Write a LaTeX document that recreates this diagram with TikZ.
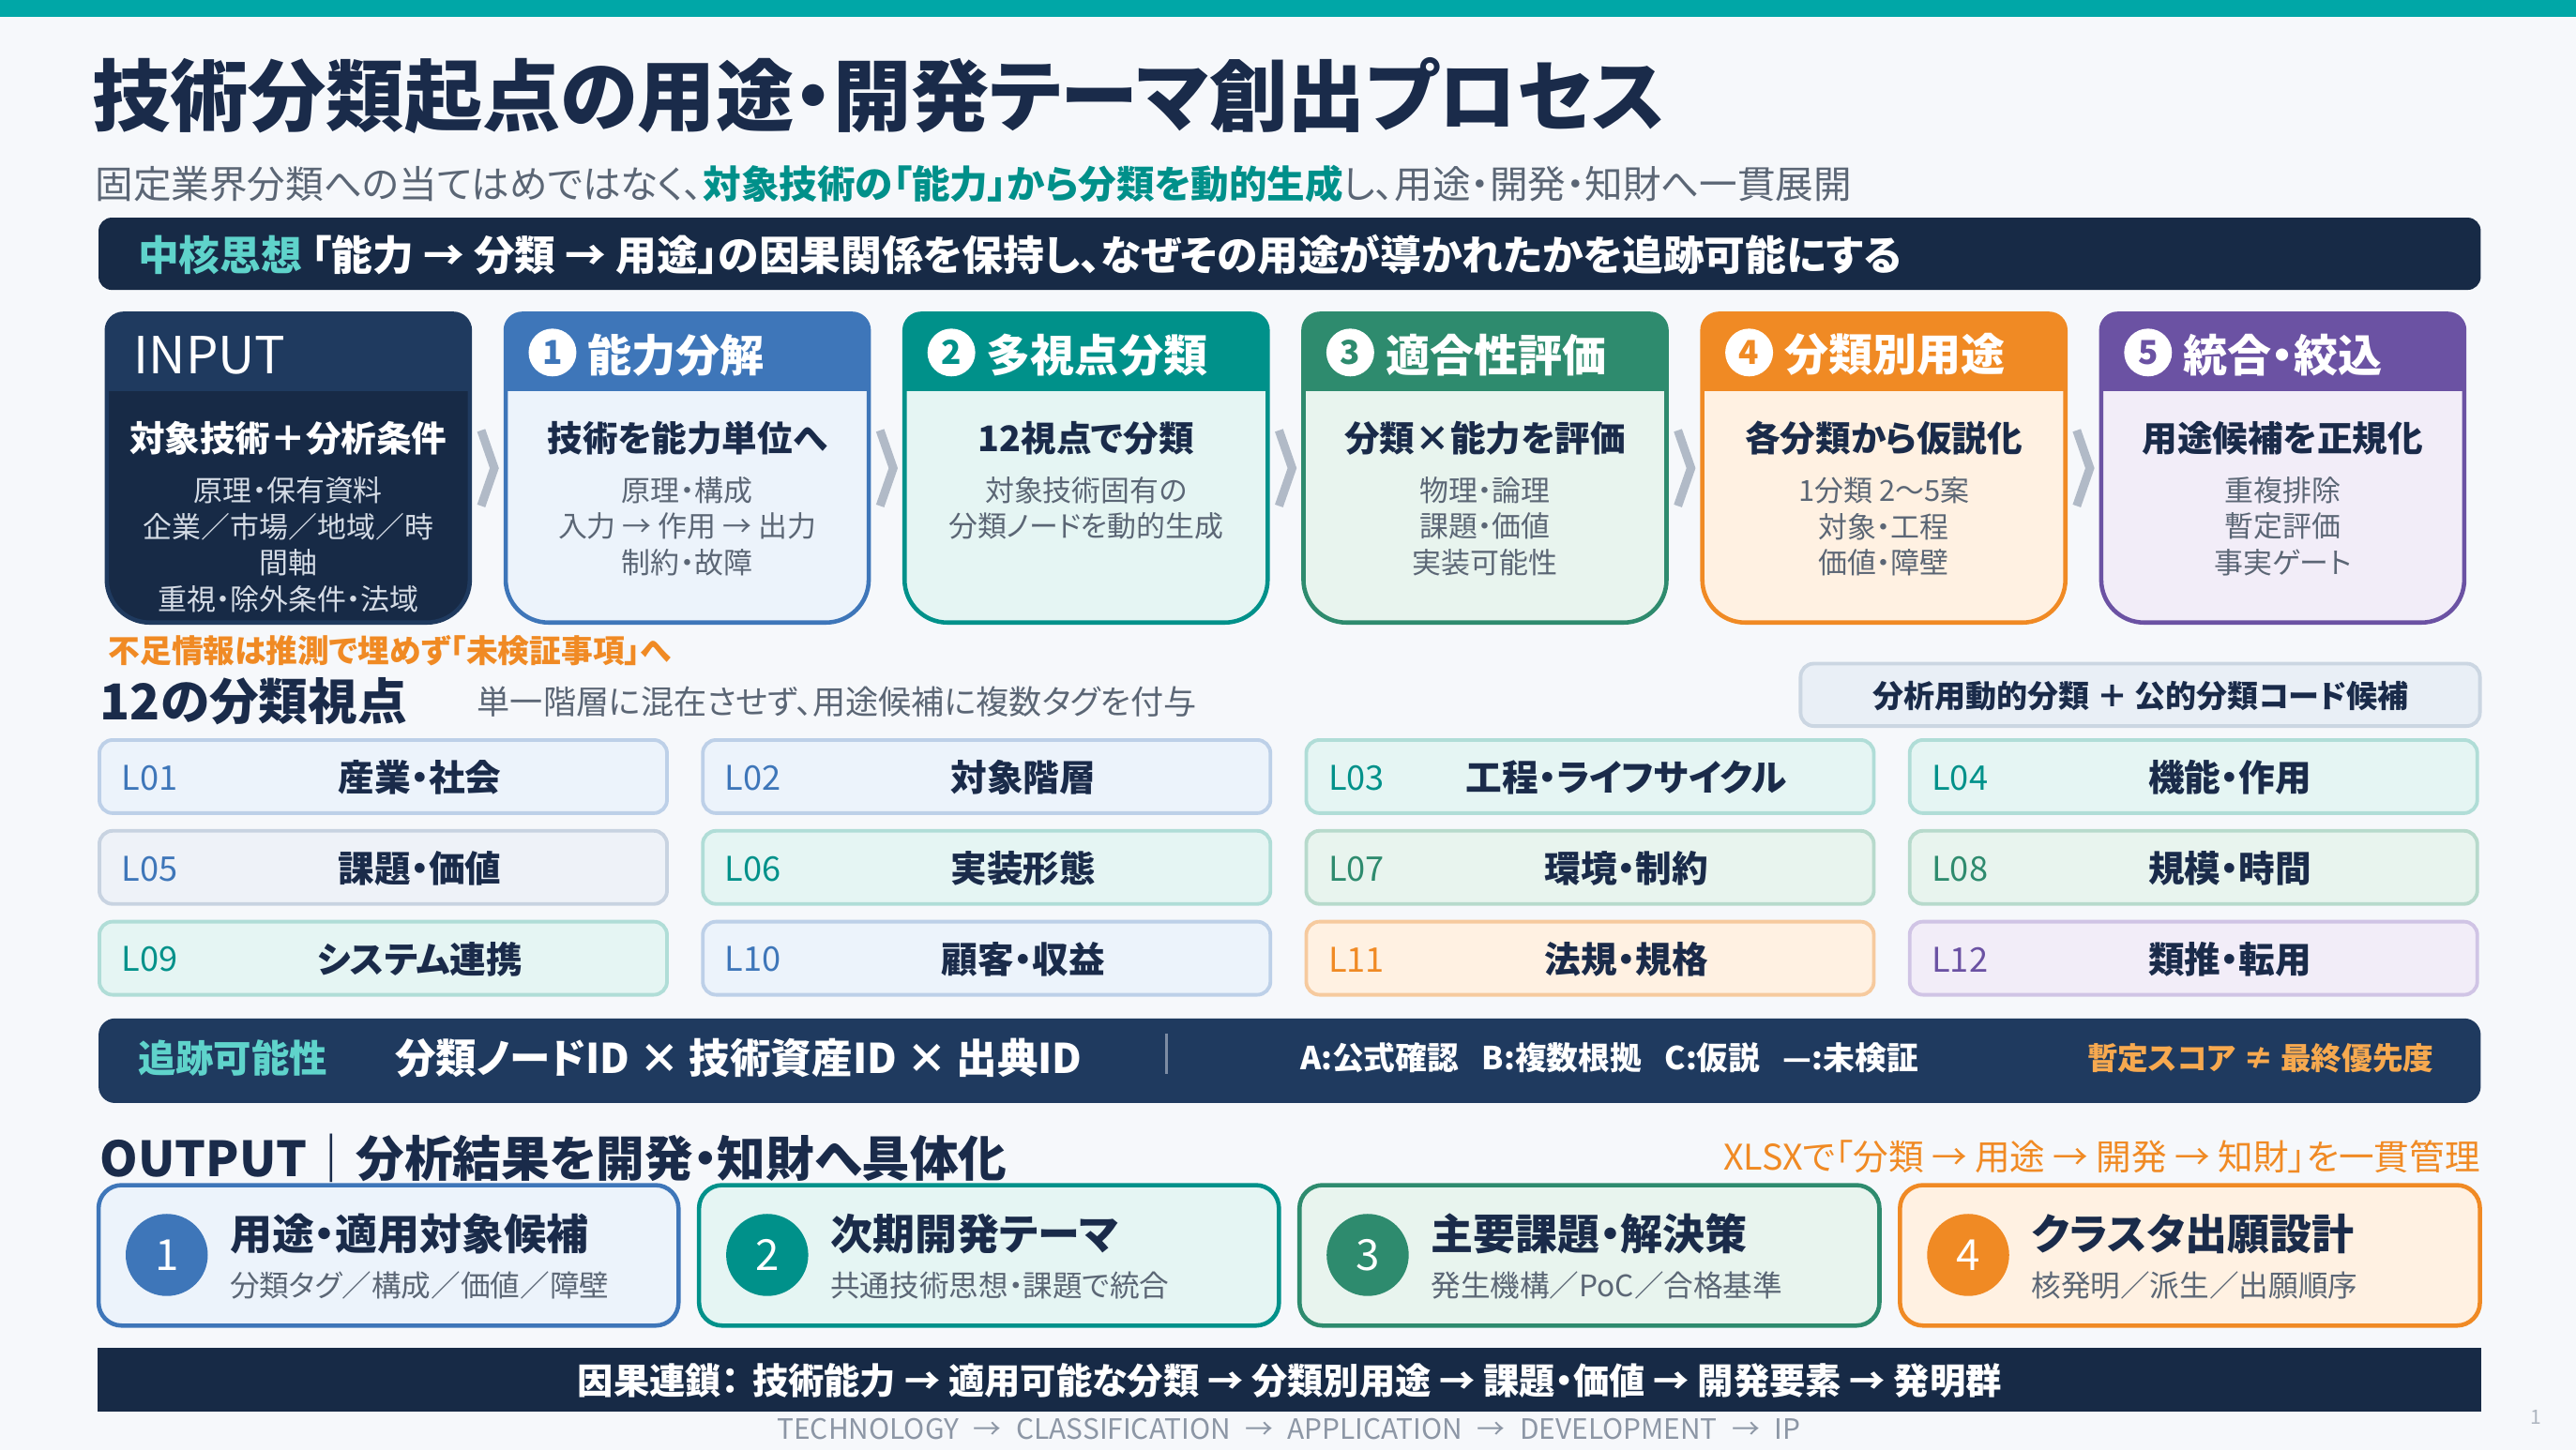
\documentclass[tikz,border=0pt]{standalone}
\usepackage{fontspec}
\setmainfont[RawFeature=+palt]{Noto Sans CJK JP}
\usetikzlibrary{calc}

\definecolor{bgc}{HTML}{F6F8FB}
\definecolor{topbar}{HTML}{00A7A7}
\definecolor{navy}{HTML}{172A46}
\definecolor{navyB}{HTML}{1F3A5F}
\definecolor{ink}{HTML}{1A2B4A}
\definecolor{grayt}{HTML}{5B6675}
\definecolor{tealt}{HTML}{00908A}
\definecolor{aqua}{HTML}{5FD3CB}
\definecolor{blueC}{HTML}{3E76B9}
\definecolor{blueL}{HTML}{ECF3FB}
\definecolor{blueB}{HTML}{BDD0E8}
\definecolor{slateL}{HTML}{EEF2F8}
\definecolor{slateB}{HTML}{C8D3E1}
\definecolor{tealC}{HTML}{00918A}
\definecolor{tealL}{HTML}{E5F5F3}
\definecolor{tealB}{HTML}{B0DDD7}
\definecolor{greenC}{HTML}{2E8B6E}
\definecolor{greenL}{HTML}{E8F4EE}
\definecolor{greenB}{HTML}{B7DACC}
\definecolor{orangeC}{HTML}{F08A24}
\definecolor{orangeL}{HTML}{FFF1E2}
\definecolor{orangeB}{HTML}{F6CA9E}
\definecolor{purpleC}{HTML}{6B52A3}
\definecolor{purpleL}{HTML}{F2EDF8}
\definecolor{purpleB}{HTML}{D0C4E5}
\definecolor{chevc}{HTML}{B1BAC7}
\definecolor{scorec}{HTML}{F7A94F}
\definecolor{lgray}{HTML}{8C96A5}
\definecolor{inputsub}{HTML}{D5DCE6}
\definecolor{dynL}{HTML}{E9EFF6}
\definecolor{dynB}{HTML}{CBD6E2}
\definecolor{sepc}{HTML}{7D8CA3}

\newcommand{\fsz}[1]{\fontsize{#1}{#1}\selectfont}
% outline of one process stage (left edge given)
\newcommand{\stagepath}[1]{(#1+110,191) [rounded corners=5pt] -- (#1+221,191) -- (#1+221,300) [rounded corners=13pt] -- (#1+221,379) -- (#1,379) -- (#1,300) [rounded corners=5pt] -- (#1,191) -- cycle}

\tikzset{
  txt/.style={inner sep=0pt, outer sep=0pt},
  lbl/.style={txt, anchor=west},
  stagehd/.style={lbl, text=white, font=\bfseries\fsz{13.4pt}},
  stagenum/.style={circle, fill=white, inner sep=0pt, minimum size=14.5pt, font=\bfseries\fsz{10pt}},
  stagettl/.style={txt, text=ink, font=\bfseries\fsz{10.7pt}},
  stagesub/.style={txt, text=grayt, font=\fsz{8.8pt}},
  chev/.style={draw=chevc, line width=2.6pt, line join=miter},
  cellcode/.style={lbl, font=\fsz{10.3pt}},
  cellname/.style={txt, text=ink, font=\bfseries\fsz{11pt}},
  cardnum/.style={circle, inner sep=0pt, minimum size=24.9pt, text=white, font=\fsz{13pt}},
  cardttl/.style={lbl, text=ink, font=\bfseries\fsz{12.8pt}},
  cardsub/.style={lbl, text=grayt, font=\fsz{9pt}},
}

\begin{document}
\begin{tikzpicture}[x=0.017513cm, y=-0.017513cm]
\useasboundingbox (0,0) rectangle (1568,883);
\fill[bgc] (0,0) rectangle (1568,883);
\fill[topbar] (0,0) rectangle (1568,10);

% title block
\node[lbl, text=ink, font=\bfseries\fsz{23.7pt}] (title) at (56,58.5) {技術分類起点の用途・開発テーマ創出プロセス};
\node[lbl, text=grayt, font=\fsz{11.55pt}] (subtitle) at (58,112) {固定業界分類への当てはめではなく、{\bfseries\color{tealt}対象技術の「能力」から分類を動的生成}し、用途・開発・知財へ一貫展開};

\fill[navy, rounded corners=4pt] (60,132.5) rectangle (1510,176.5);
\node[lbl, text=white, font=\bfseries\fsz{12.45pt}] (core) at (84,155) {{\color{aqua}中核思想} 「能力 → 分類 → 用途」の因果関係を保持し、なぜその用途が導かれたかを追跡可能にする};

% INPUT stage
\begin{scope}
  \clip \stagepath{65};
  \fill[navy] (65,191) rectangle ++(221,188);
  \fill[navyB] (65,191) rectangle ++(221,47);
\end{scope}
\draw[navyB, line width=1.3pt] \stagepath{65};
\node[stagehd, font=\fsz{15.5pt}] (inputhd) at (81.5,216.5) {INPUT};
\node[stagettl, text=white] (inputttl) at (175.5,267) {対象技術＋分析条件};
\foreach \ln [count=\k] in {原理・保有資料, 企業／市場／地域／時, 間軸, 重視・除外条件・法域}
  \node[stagesub, text=inputsub] (insub\k) at (175.5,276.5+22*\k) {\ln};

% stages 1..5
\foreach \i/\hc/\bc/\ttl/\btl/\sub in {
  1/blueC/blueL/能力分解/技術を能力単位へ/{原理・構成,入力 → 作用 → 出力,制約・故障},
  2/tealC/tealL/多視点分類/12視点で分類/{対象技術固有の,分類ノードを動的生成},
  3/greenC/greenL/適合性評価/分類×能力を評価/{物理・論理,課題・価値,実装可能性},
  4/orangeC/orangeL/分類別用途/各分類から仮説化/{1分類 2～5案,対象・工程,価値・障壁},
  5/purpleC/purpleL/統合・絞込/用途候補を正規化/{重複排除,暫定評価,事実ゲート}}
{
  \pgfmathsetmacro{\x}{65+242.8*\i}
  \begin{scope}
    \clip \stagepath{\x};
    \fill[\bc] (\x,191) rectangle ++(221,188);
    \fill[\hc] (\x,191) rectangle ++(221,47);
  \end{scope}
  \draw[\hc, line width=1.3pt] \stagepath{\x};
  \node[stagenum, text=\hc] (num\i) at (\x+28.5,214.6) {\i};
  \node[stagehd] (hd\i) at (\x+50,216) {\ttl};
  \node[stagettl] (ttl\i) at (\x+110.5,267) {\btl};
  \foreach \ln [count=\k] in \sub
    \node[stagesub] (sub\i-\k) at (\x+110.5,276.5+22*\k) {\ln};
}

\foreach \i in {0,...,4}
  \draw[chev] ({296.9+242.8*\i-4},262) -- ({296.9+242.8*\i+4},285) -- ({296.9+242.8*\i-4},308);

% 12 viewpoints
\node[lbl, text=orangeC, font=\bfseries\fsz{9.6pt}] (gapnote) at (66,396) {不足情報は推測で埋めず「未検証事項」へ};
\node[lbl, text=ink, font=\bfseries\fsz{15pt}] (viewttl) at (61,427) {12の分類視点};
\node[lbl, text=grayt, font=\fsz{10pt}] (viewnote) at (290.5,427) {単一階層に混在させず、用途候補に複数タグを付与};
\draw[fill=dynL, draw=dynB, line width=1.1pt, rounded corners=4pt] (1096,404) rectangle (1509.5,442);
\node[txt, text=ink, font=\bfseries\fsz{9.4pt}] (dyn) at (1303,424) {分析用動的分類 ＋ 公的分類コード候補};

\foreach \r/\c/\code/\name/\fc/\bc/\tc in {
  0/0/L01/産業・社会/blueL/blueB/blueC, 0/1/L02/対象階層/blueL/blueB/blueC,
  0/2/L03/工程・ライフサイクル/tealL/tealB/tealC, 0/3/L04/機能・作用/tealL/tealB/tealC,
  1/0/L05/課題・価値/slateL/slateB/blueC, 1/1/L06/実装形態/tealL/tealB/tealC,
  1/2/L07/環境・制約/greenL/greenB/greenC, 1/3/L08/規模・時間/greenL/greenB/greenC,
  2/0/L09/システム連携/tealL/tealB/tealC, 2/1/L10/顧客・収益/blueL/blueB/blueC,
  2/2/L11/法規・規格/orangeL/orangeB/orangeC, 2/3/L12/類推・転用/purpleL/purpleB/purpleC}
{
  \pgfmathsetmacro{\x}{60.5+367.3*\c}
  \pgfmathsetmacro{\y}{450.5+55.3*\r}
  \draw[fill=\fc, draw=\bc, line width=1.1pt, rounded corners=4pt] (\x,\y) rectangle ++(345.5,44.5);
  \node[cellcode, text=\tc] (code\code) at (\x+13.5,\y+23) {\code};
  \node[cellname] (name\code) at (\x+195,\y+23) {\name};
}

% traceability
\fill[navyB, rounded corners=5pt] (60,620) rectangle (1510,671.5);
\node[lbl, text=aqua, font=\bfseries\fsz{11.5pt}] (tracettl) at (84,644) {追跡可能性};
\node[lbl, text=white, font=\bfseries\fsz{12.4pt}] (traceid) at (240.5,644) {分類ノードID × 技術資産ID × 出典ID};
\draw[sepc, line width=1pt] (710,629) -- (710,654);
\node[lbl, text=white, font=\bfseries\fsz{9.6pt}] (grade) at (791.5,644) {A:公式確認\hspace{7pt}B:複数根拠\hspace{7pt}C:仮説\hspace{7pt}—:未検証};
\node[lbl, text=scorec, font=\bfseries\fsz{9.3pt}] (score) at (1270.5,644) {暫定スコア ≠ 最終優先度};

% output
\node[lbl, text=ink, font=\bfseries\fsz{14.7pt}] (outttl) at (61,705) {OUTPUT｜分析結果を開発・知財へ具体化};
\node[lbl, anchor=east, text=orangeC, font=\fsz{10.7pt}] (xlsx) at (1509.5,704) {XLSXで「分類 → 用途 → 開発 → 知財」を一貫管理};

\foreach \i/\hc/\lc/\ttl/\sub in {
  1/blueC/blueL/用途・適用対象候補/分類タグ／構成／価値／障壁,
  2/tealC/tealL/次期開発テーマ/共通技術思想・課題で統合,
  3/greenC/greenL/主要課題・解決策/発生機構／PoC／合格基準,
  4/orangeC/orangeL/クラスタ出願設計/核発明／派生／出願順序}
{
  \pgfmathsetmacro{\x}{60+365.5*(\i-1)}
  \draw[draw=\hc, fill=\lc, line width=1.3pt, rounded corners=7pt] (\x,721.5) rectangle ++(353,85.5);
  \node[cardnum, fill=\hc] (cnum\i) at (\x+41.5,764) {\i};
  \node[cardttl] (cttl\i) at (\x+80,751) {\ttl};
  \node[cardsub] (csub\i) at (\x+80,782.5) {\sub};
}

% causal chain
\fill[navy] (59.5,820.5) rectangle (1510.5,859.5);
\node[txt, text=white, font=\bfseries\fsz{10.9pt}] (chain) at (785,840.5) {因果連鎖：\hspace{4pt}技術能力 → 適用可能な分類 → 分類別用途 → 課題・価値 → 開発要素 → 発明群};
\node[txt, text=lgray, font=\fsz{8.5pt}] (chainen) at (784.5,869.8) {TECHNOLOGY\hspace{2.5pt} → \hspace{2.5pt}CLASSIFICATION\hspace{2.5pt} → \hspace{2.5pt}APPLICATION\hspace{2.5pt} → \hspace{2.5pt}DEVELOPMENT\hspace{2.5pt} → \hspace{2.5pt}IP};
\node[txt, text=lgray!70, font=\fsz{6pt}] (pageno) at (1543.6,863) {1};
\end{tikzpicture}
\end{document}
